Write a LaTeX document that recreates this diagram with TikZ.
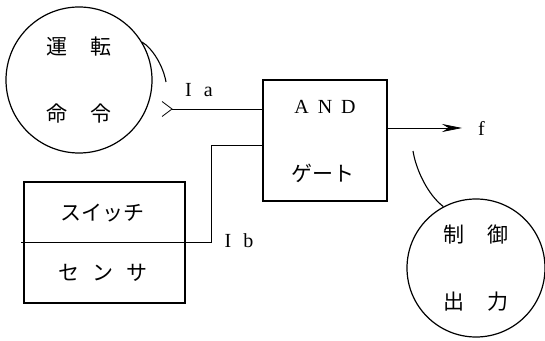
\documentclass[tikz,border=0pt]{standalone}
\usepackage{fontspec}
\setmainfont{Liberation Serif}
\newfontfamily\jpfont{Noto Sans CJK JP}
\usetikzlibrary{arrows.meta,positioning}

\begin{document}
\begin{tikzpicture}[x=1pt, y=1pt,
    round_block/.style={circle, draw, line width=1.2pt, inner sep=0pt,
      align=center, font=\jpfont\fontsize{21}{67}\selectfont},
    square_block/.style={rectangle, draw, line width=1.6pt, inner sep=0pt},
    jp_label/.style={font=\jpfont\fontsize{21}{25}\selectfont, inner sep=0pt},
    lat_label/.style={font=\fontsize{20}{24}\selectfont, inner sep=0pt},
    signal/.style={line width=0.8pt},
    leader/.style={line width=1.1pt},
    >=Stealth
  ]
  \useasboundingbox (0,0) rectangle (545,340);

  % --- Blocks ---
  \node[round_block, minimum size=146pt] (command) at (79,260)
    {運\hspace{1.1em}転\\命\hspace{1.1em}令};
  \node[square_block, minimum width=124pt, minimum height=121pt] (gate) at (325,199.5) {};
  \node[square_block, minimum width=161pt, minimum height=121pt] (sensor) at (104.5,97.5) {};
  \node[round_block, minimum size=138pt] (control) at (476,72)
    {制\hspace{1.1em}御\\出\hspace{1.1em}力};

  % --- Block texts ---
  \node[lat_label] (gate_and) at ([yshift=33.5]gate.center) {A\hspace{0.45em}N\hspace{0.45em}D};
  \node[jp_label] (gate_jp) at ([xshift=-2,yshift=-32.5]gate.center) {ゲート};
  \node[jp_label] (sensor_top) at ([xshift=-2.5,yshift=29.5]sensor.center) {スイッチ};
  \node[jp_label] (sensor_bot) at ([xshift=-1.5,yshift=-30.5]sensor.center)
    {セ\hspace{0.6em}ン\hspace{0.6em}サ};

  % --- Signals ---
  \coordinate (ia_tip) at (172,231);
  \coordinate (ib_corner) at (211,97.5);
  \coordinate (out_tip) at (462,212);

  \draw[signal] (ia_tip) -- (ia_tip -| gate.west);
  \draw[signal] ([shift={(-10,7.5)}]ia_tip) -- (ia_tip) -- ([shift={(-10,-7.5)}]ia_tip);
  \draw[signal] ([xshift=-2]sensor.west) -- (ib_corner) |- ([yshift=-4.5]gate.west);
  \draw[signal, -{Stealth[length=20pt, width=8pt]}] (gate.east |- out_tip) -- (out_tip);

  % --- Labels ---
  \node[lat_label] (ia_label) at (199,250) {I\hspace{0.6em}a};
  \node[lat_label] (ib_label) at (239,99) {I\hspace{0.6em}b};
  \node[lat_label, right=16pt of out_tip] (f_label) {f};

  % --- Leaders ---
  \coordinate (ia_note) at (166,258);
  \coordinate (f_note) at (413,189);
  \draw[leader] (command.31) .. controls (152,292) and (163,275) .. (ia_note);
  \draw[leader] (control.118) .. controls (428,145) and (416,170) .. (f_note);
\end{tikzpicture}
\end{document}
